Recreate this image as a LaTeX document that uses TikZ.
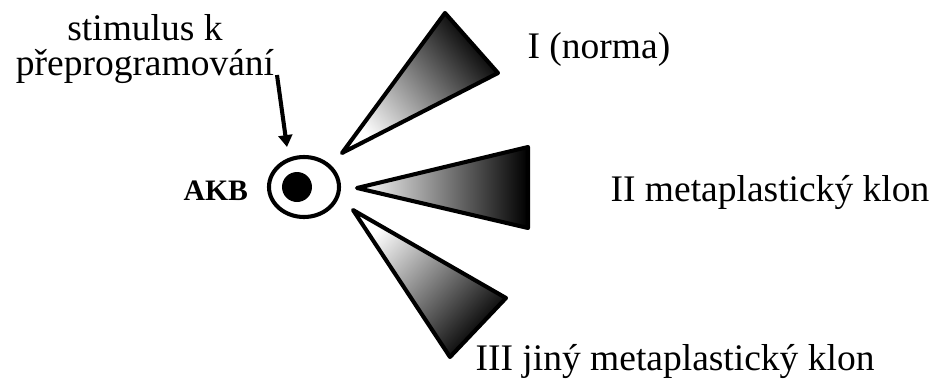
\documentclass[tikz,border=0pt]{standalone}
\usepackage{fontspec}
\setmainfont{Liberation Serif}
\usetikzlibrary{positioning,arrows.meta,calc,shapes.geometric}

\begin{document}
\begin{tikzpicture}[x=0.32pt,y=0.32pt,
  clonewedge/.style={draw=black, line width=1.3pt, line join=round, top color=black, bottom color=white},
  lbl/.style={anchor=base west, inner sep=0pt, font=\fontsize{12}{11.2}\selectfont}]
\useasboundingbox (0,0) rectangle (938,381);
% bunka
\node[draw, ellipse, line width=1.3pt, minimum width=22.4pt, minimum height=19.2pt, inner sep=0pt] (cell) at (304,194) {};
\fill (297,194) circle (4.8pt);
\node[anchor=base west, inner sep=0pt, font=\fontsize{9.5}{11}\selectfont\bfseries] (akb) at (183,181) {AKB};
% klony
\shade[clonewedge, shading angle=-50] (342,228) -- (445,368) -- (498,308) -- cycle;
\shade[clonewedge, shading angle=-90] (357,193) -- (528,234) -- (528,153) -- cycle;
\shade[clonewedge, shading angle=-133] (353,171) -- (506,83) -- (450,24) -- cycle;
\node[lbl] (klon1) at (527,323) {I (norma)};
\node[lbl] (klon2) at (610,180) {II metaplastický klon};
\node[lbl] (klon3) at (475,11) {III jiný metaplastický klon};
% stimulus
\node[anchor=base, inner sep=0pt, align=center, font=\fontsize{12}{11.2}\selectfont] (stim) at (145,306) {stimulus k\\přeprogramování};
\coordinate (stimtail) at (277,306);
\coordinate (stimtip) at (287,234);
\draw[line width=1.3pt, -{Triangle[length=3.8pt,width=4.4pt]}] (stimtail) -- (stimtip);
\end{tikzpicture}
\end{document}
